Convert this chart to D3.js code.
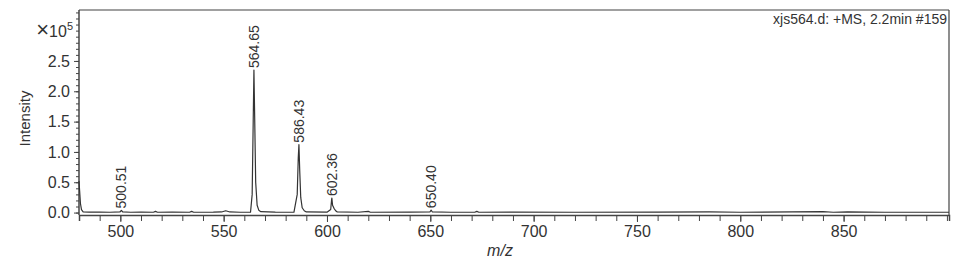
<!DOCTYPE html>
<html>
<head>
<meta charset="utf-8">
<script src="https://cdn.jsdelivr.net/npm/d3@7"></script>
<style>
  body { margin: 0; background: #fff; }
  text { font-family: "Liberation Sans", Arial, sans-serif; fill: #333; }
</style>
</head>
<body>
<svg id="chart"></svg>
<script>
// spectrum: [m/z, intensity (x10^5)]
const spectrum = [
  [480.0, 0.52], [480.3, 0.36], [480.7, 0.15], [481.2, 0.05], [482.0, 0.012],
  [485, 0.006], [490, 0.009], [495, 0.005], [499.8, 0.01], [500.5, 0.035], [501.2, 0.01],
  [505, 0.005], [510, 0.008], [516, 0.005], [517, 0.02], [518, 0.005], [525, 0.006],
  [533.5, 0.005], [534.5, 0.02], [535.5, 0.005], [545, 0.006], [549, 0.01], [551, 0.03],
  [553, 0.01], [558, 0.005], [563, 0.006], [563.8, 0.3], [564.3, 1.5], [564.65, 2.35],
  [565.0, 1.6], [565.5, 0.5], [566.2, 0.12], [567, 0.04], [568, 0.015], [575, 0.006],
  [584, 0.005], [585.6, 0.3], [586.1, 0.9], [586.43, 1.12], [586.8, 0.7], [587.3, 0.25],
  [588, 0.08], [589, 0.03], [590, 0.01], [600, 0.006], [601.8, 0.05], [602.2, 0.2],
  [602.36, 0.24], [602.7, 0.12], [603.4, 0.07], [604.2, 0.03], [605, 0.01], [615, 0.005],
  [620, 0.02], [621, 0.005], [640, 0.006], [649.8, 0.01], [650.4, 0.04], [651, 0.01],
  [660, 0.005], [671.5, 0.005], [672.5, 0.02], [673.5, 0.005], [690, 0.008], [720, 0.005],
  [760, 0.006], [785, 0.01], [800, 0.005], [840, 0.015], [845, 0.005], [852, 0.012],
  [870, 0.005], [901, 0.005]
]
const peakLabels = [
  { mz: 500.51, y: 0.035, text: '500.51' },
  { mz: 564.65, y: 2.35, text: '564.65' },
  { mz: 586.43, y: 1.12, text: '586.43' },
  { mz: 602.36, y: 0.24, text: '602.36' },
  { mz: 650.40, y: 0.04, text: '650.40' }
]
const xTicks = [500, 550, 600, 650, 700, 750, 800, 850]
const yTicks = [0, 0.5, 1.0, 1.5, 2.0, 2.5]
const title = 'xjs564.d: +MS, 2.2min #159'

const width = 961, height = 271
const margin = { top: 10, right: 12, bottom: 56, left: 79 }
const w = width - margin.left - margin.right
const h = height - margin.top - margin.bottom

const svg = d3.select('#chart').attr('width', width).attr('height', height)
const g = svg.append('g').attr('transform', `translate(${margin.left},${margin.top})`)

const x = d3.scaleLinear().domain([480, 901]).range([0, w])
const y = d3.scaleLinear().domain([-0.04, 3.34]).range([h, 0])

// frame (top + right)
g.append('line').attr('x1', 0).attr('x2', w).attr('y1', 0).attr('y2', 0)
  .attr('stroke', '#808080').attr('stroke-width', 1.5)
g.append('line').attr('x1', w).attr('x2', w).attr('y1', 0).attr('y2', h)
  .attr('stroke', '#444').attr('stroke-width', 1.2)

// x axis: minor ticks then major labels
const xMinor = d3.range(480, 901, 10)
g.append('g').attr('transform', `translate(0,${h})`)
  .call(d3.axisBottom(x).tickValues(xMinor).tickSize(6).tickFormat(''))
  .call(a => a.select('.domain').attr('stroke', '#444').attr('stroke-width', 1.5))
  .call(a => a.selectAll('.tick line').attr('stroke', '#444'))
g.append('g').attr('transform', `translate(0,${h})`)
  .call(d3.axisBottom(x).tickValues(xTicks).tickSize(7).tickPadding(4).tickFormat(d3.format('d')))
  .call(a => a.select('.domain').remove())
  .call(a => a.selectAll('.tick line').attr('stroke', '#444'))
  .call(a => a.selectAll('text').attr('font-size', 16).attr('fill', '#333')
    .attr('font-family', '"Liberation Sans", Arial, sans-serif'))

// y axis
const yMinor = d3.range(0, 3.35, 0.1)
g.append('g')
  .call(d3.axisLeft(y).tickValues(yMinor).tickSize(3).tickFormat(''))
  .call(a => a.select('.domain').attr('stroke', '#444').attr('stroke-width', 1.5)
    .attr('d', `M0,0V${h}`))
  .call(a => a.selectAll('.tick line').attr('stroke', '#444'))
g.append('g')
  .call(d3.axisLeft(y).tickValues(yTicks).tickSize(5).tickPadding(4).tickFormat(d3.format('.1f')))
  .call(a => a.select('.domain').remove())
  .call(a => a.selectAll('.tick line').attr('stroke', '#444'))
  .call(a => a.selectAll('text').attr('font-size', 16).attr('fill', '#333')
    .attr('font-family', '"Liberation Sans", Arial, sans-serif'))

// exponent label
const ex = g.append('text').attr('x', -6).attr('y', y(3.0) + 6)
  .attr('text-anchor', 'end').attr('font-size', 16)
ex.append('tspan').text('×').attr('font-size', 22)
ex.append('tspan').text('10')
ex.append('tspan').text('5').attr('font-size', 11).attr('dy', -7)

// axis titles
svg.append('text').attr('x', 500).attr('y', 256).attr('text-anchor', 'middle')
  .attr('font-size', 16).attr('font-style', 'italic').text('m/z')
svg.append('text').attr('transform', `translate(30,${margin.top + h / 2 + 6}) rotate(-90)`)
  .attr('text-anchor', 'middle').attr('font-size', 15).attr('fill', '#444').text('Intensity')

// spectrum trace
const line = d3.line().x(d => x(d[0])).y(d => y(d[1]))
g.append('path').datum(spectrum).attr('d', line)
  .attr('fill', 'none').attr('stroke', '#333').attr('stroke-width', 1.2)
  .attr('stroke-linejoin', 'round')

// peak labels
g.selectAll('.peak').data(peakLabels).join('text')
  .attr('class', 'peak')
  .attr('transform', d => `translate(${x(d.mz) + 5},${y(d.y) - 2}) rotate(-90)`)
  .attr('font-size', 14).text(d => d.text)

// title
svg.append('text').attr('x', width - margin.right - 2).attr('y', 24)
  .attr('text-anchor', 'end').attr('font-size', 14).text(title)
</script>
</body>
</html>
